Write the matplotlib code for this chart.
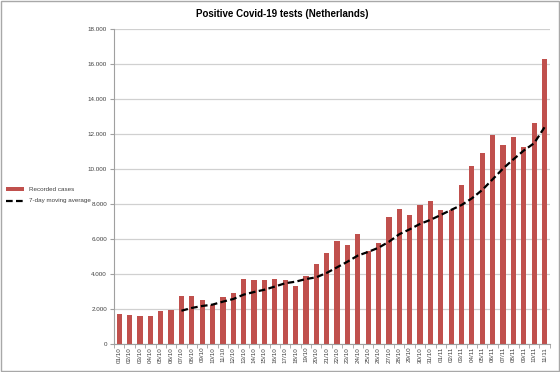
import matplotlib
matplotlib.use('Agg')
from matplotlib import pyplot as plt
from matplotlib.patches import Rectangle

plt.rcParams['font.family'] = ['Liberation Sans', 'DejaVu Sans']

dias = [f"{d:02d}/10" for d in range(1, 32)] + [f"{d:02d}/11" for d in range(1, 12)]

casos = [1710, 1660, 1600, 1620, 1890, 1920, 2740, 2740, 2500, 2230, 2700, 2910,
         3730, 3680, 3680, 3710, 3680, 3330, 3900, 4590, 5200, 5870, 5640, 6270,
         5300, 5750, 7260, 7700, 7370, 7920, 8150, 7680, 7640, 9100, 10190, 10900,
         11940, 11350, 11810, 11280, 12610, 16290]

# media movil de 7 dias (empieza el 07/10)
media = [1900, 2060, 2170, 2250, 2420, 2570, 2820, 2970, 3100, 3280, 3470, 3560,
         3710, 3810, 4060, 4380, 4700, 5050, 5260, 5500, 5840, 6270, 6550, 6860,
         7090, 7370, 7660, 7940, 8320, 8800, 9410, 10020, 10550, 11050, 11470, 12380]

fig = plt.figure(figsize=(5.6, 3.72), dpi=100)
ax = fig.add_axes([0.2036, 0.0753, 0.778, 0.847])

x = list(range(len(dias)))
barras = ax.bar(x, casos, width=0.5, color='#C0504D', label='Recorded cases', zorder=2)
linea, = ax.plot(x[6:], media, color='black', linestyle=(0, (3, 1.5)), linewidth=1.6,
                 label='7-day moving average', zorder=3)

ax.set_ylim(0, 18000)
ax.set_xlim(-0.5, len(dias) - 0.5)
ax.set_yticks(range(0, 18001, 2000))
ax.set_yticklabels([f"{v:,}".replace(',', '.') for v in range(0, 18001, 2000)])
ax.set_xticks(x)
ax.set_xticklabels(dias, rotation=90)
ax.tick_params(axis='both', labelsize=4.5, colors='#404040', length=0, pad=2)
ax.set_xticks([i - 0.5 for i in range(len(dias) + 1)], minor=True)
ax.tick_params(axis='x', which='minor', length=3, color='#A0A0A0')
ax.tick_params(axis='y', length=3, color='#A0A0A0')
ax.grid(axis='y', color='#D0D0D0', linewidth=0.9, zorder=0)
for s in ['top', 'right']:
    ax.spines[s].set_visible(False)
for s in ['left', 'bottom']:
    ax.spines[s].set_color('#A0A0A0')
    ax.spines[s].set_linewidth(0.8)

fig.suptitle('Positive Covid-19 tests (Netherlands)', x=0.504, y=0.975,
             fontsize=7, fontweight='bold')

fig.legend([barras, linea], ['Recorded cases', '7-day moving average'],
           loc='center left', bbox_to_anchor=(0.0, 0.475),
           frameon=False, fontsize=4.5, handlelength=3, handleheight=0.4,
           labelspacing=1.0, labelcolor='#404040')

fig.patches.append(Rectangle((0.002, 0.003), 0.996, 0.994, transform=fig.transFigure,
                             fill=False, edgecolor='#A8A8A8', linewidth=1))

fig.savefig('out.png', dpi=100)
